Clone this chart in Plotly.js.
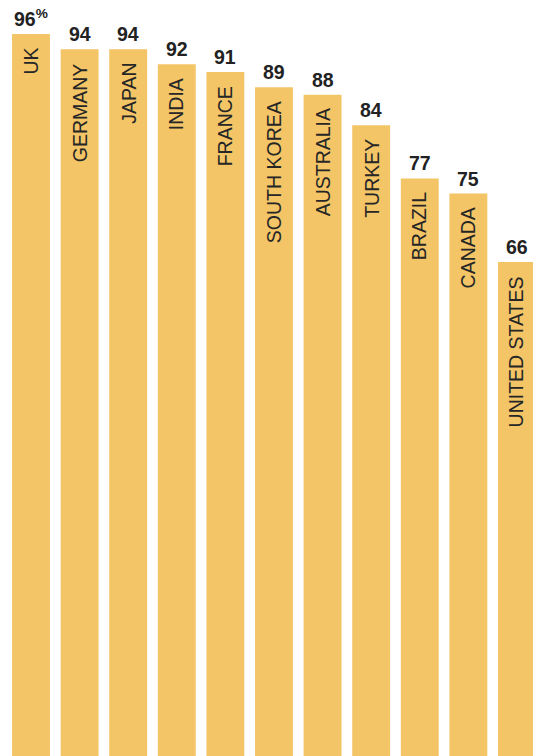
<!DOCTYPE html>
<html>
<head>
<meta charset="utf-8">
<script src="https://cdn.plot.ly/plotly-3.0.1.min.js"></script>
<style>
html,body{margin:0;padding:0;background:#fff;}
#chart{width:533px;height:756px;}
</style>
</head>
<body>
<div id="chart"></div>
<script>
const countries = ["UK","GERMANY","JAPAN","INDIA","FRANCE","SOUTH KOREA","AUSTRALIA","TURKEY","BRAZIL","CANADA","UNITED STATES"];
const values = [96,94,94,92,91,89,88,84,77,75,66];
const valueLabels = ["96<sup>%</sup>","94","94","92","91","89","88","84","77","75","66"];

const xIdx = countries.map((c,i)=>i);

const trace = {
  type: 'bar',
  x: xIdx,
  y: values,
  marker: {color: '#F3C567', line: {width: 0}},
  hoverinfo: 'skip'
};

const annotations = [];
countries.forEach((c,i)=>{
  annotations.push({
    x: i, y: values[i], xref:'x', yref:'y',
    text: '<b>'+valueLabels[i]+'</b>',
    showarrow:false, xanchor:'center', yanchor:'bottom', yshift:2,
    font:{family:'Liberation Sans, Arial, sans-serif', size:19.5, color:'#222'}
  });
  annotations.push({
    x: i, y: values[i], xref:'x', yref:'y',
    text: c, textangle:-90,
    showarrow:false, xanchor:'center', yanchor:'top', yshift:-12,
    font:{family:'Liberation Sans, Arial, sans-serif', size:19.5, color:'#262626'}
  });
});

const layout = {
  width:533, height:756,
  margin:{l:0,r:0,t:0,b:0},
  paper_bgcolor:'#fff', plot_bgcolor:'#fff',
  bargap:0.22,
  showlegend:false,
  xaxis:{range:[-0.638,10.33], visible:false, fixedrange:true},
  yaxis:{range:[1.0,100.47], visible:false, fixedrange:true},
  annotations: annotations
};

Plotly.newPlot('chart',[trace],layout,{displayModeBar:false, staticPlot:true});
</script>
</body>
</html>
